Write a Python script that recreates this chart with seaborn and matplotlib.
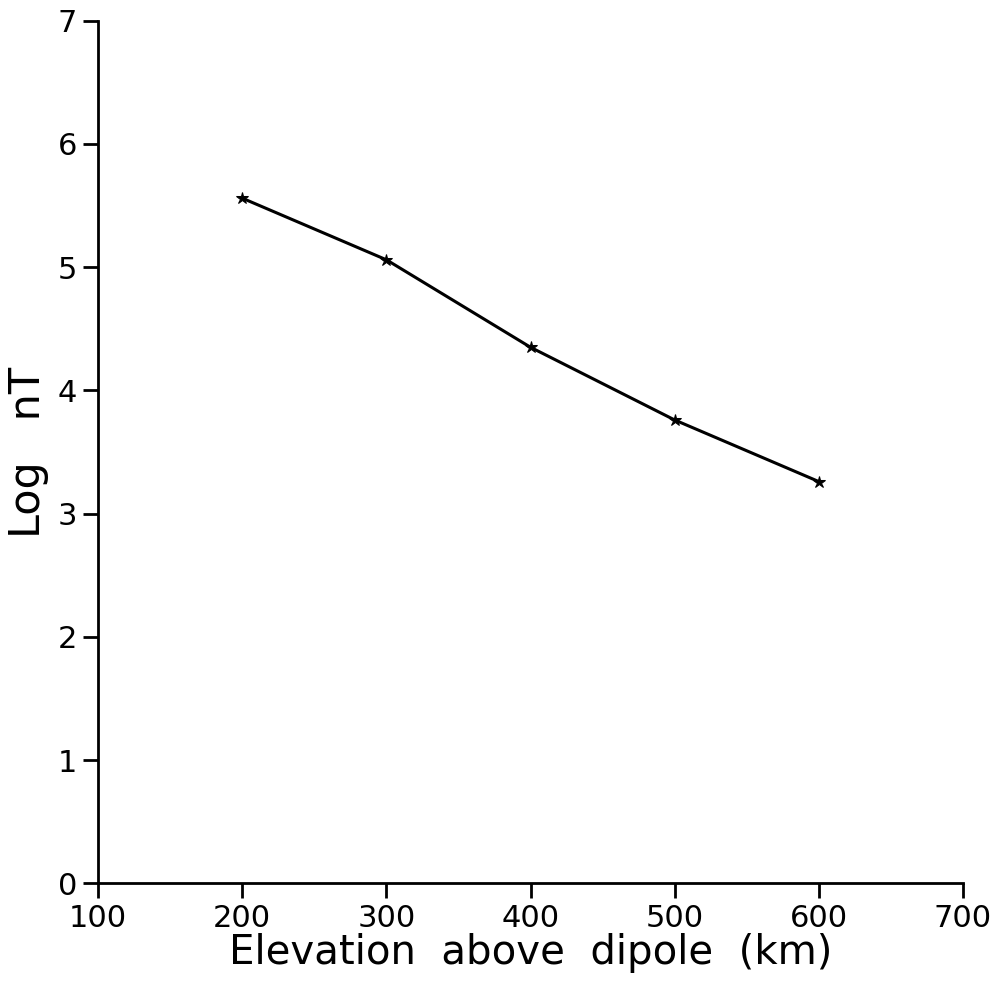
"""Log nT versus elevation above the dipole."""
import matplotlib
matplotlib.use("Agg")
import matplotlib.pyplot as plt
import numpy as np
import pandas as pd
import seaborn as sns

elevation_km = [200, 300, 400, 500, 600]
log_nt = [5.56, 5.06, 4.35, 3.76, 3.26]

x_ticks = [100, 200, 300, 400, 500, 600, 700]
y_ticks = [0, 1, 2, 3, 4, 5, 6, 7]

df = pd.DataFrame({"elevation": elevation_km, "log_nt": log_nt})

sns.set_style("ticks")
plt.rcParams["font.family"] = ["DejaVu Sans"]

fig = plt.figure(figsize=(10.01, 9.88), dpi=100)
ax = fig.add_axes([0.098, 0.106, 0.864, 0.873])

sns.lineplot(data=df, x="elevation", y="log_nt", ax=ax, color="black",
             lw=2.2, marker="*", markersize=9, markeredgecolor="black")

ax.set_xlim(100, 700)
ax.set_ylim(0, 7)
ax.set_xticks(x_ticks)
ax.set_yticks(y_ticks)
sns.despine(ax=ax)
for side in ("left", "bottom"):
    ax.spines[side].set_linewidth(2)
    ax.spines[side].set_color("black")
ax.tick_params(axis="both", which="major", length=11, width=2,
               labelsize=22, color="black", labelcolor="black", pad=4)

ax.set_xlabel("Elevation  above  dipole  (km)", fontsize=29, labelpad=0,
              color="black")
ax.set_ylabel("Log   nT", fontsize=31, labelpad=6, color="black")

fig.savefig("out.png", dpi=100, facecolor="white")
plt.close(fig)
